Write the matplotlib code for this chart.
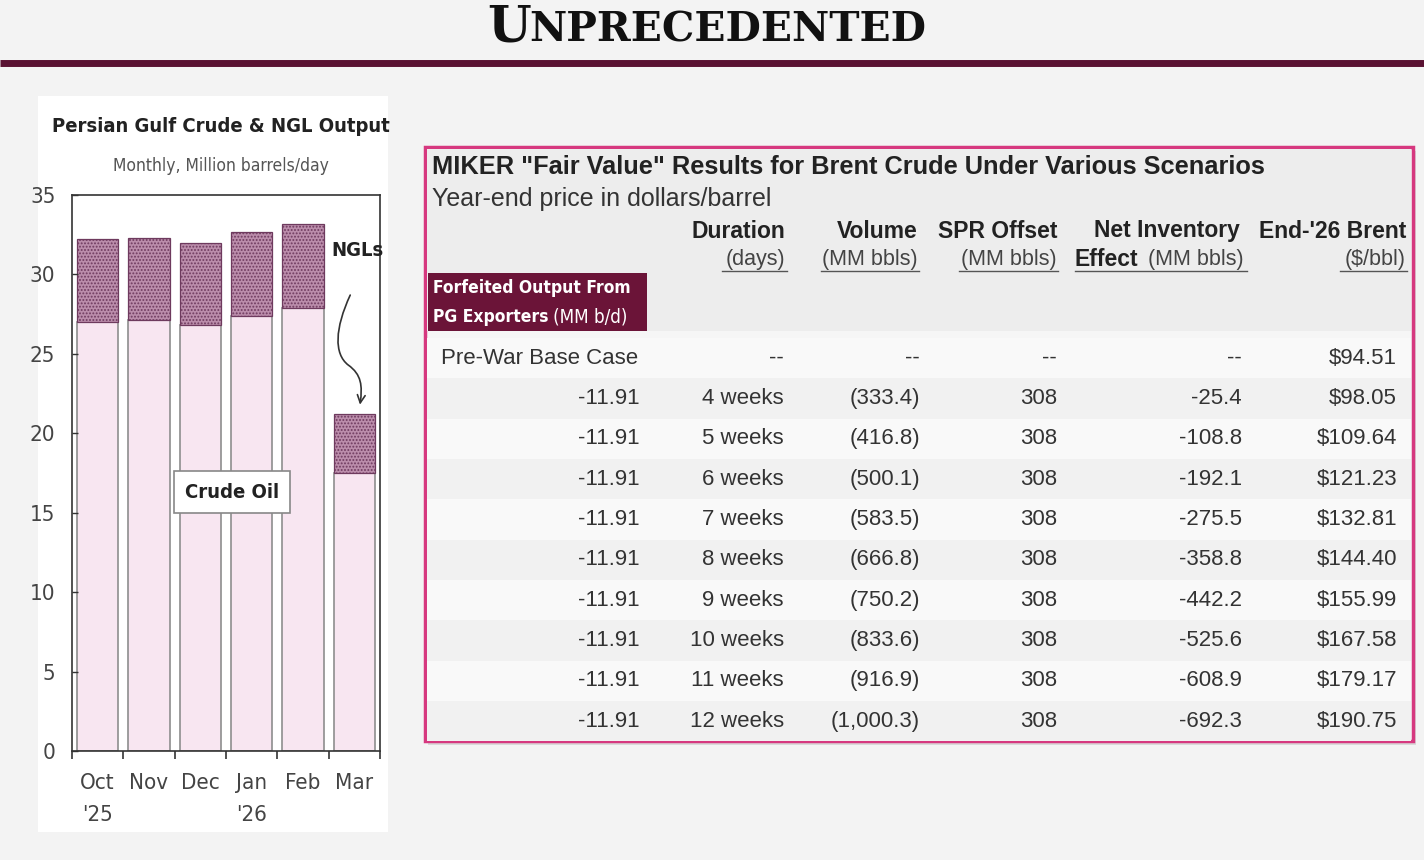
import numpy as np
import matplotlib
matplotlib.use("Agg")
import matplotlib.pyplot as plt
from matplotlib.patches import Rectangle, FancyArrowPatch
from matplotlib.path import Path

# bar chart data (million barrels/day)
months = ["Oct\n'25", "Nov", "Dec", "Jan\n'26", "Feb", "Mar"]
crude = [27.0, 27.1, 26.8, 27.4, 27.9, 17.5]
ngl = [5.2, 5.2, 5.2, 5.3, 5.3, 3.7]

# table data
forfeited = ["", "-11.91", "-11.91", "-11.91", "-11.91", "-11.91", "-11.91", "-11.91", "-11.91", "-11.91"]
durations = ["--", "4 weeks", "5 weeks", "6 weeks", "7 weeks", "8 weeks", "9 weeks", "10 weeks", "11 weeks", "12 weeks"]
volumes = ["--", "(333.4)", "(416.8)", "(500.1)", "(583.5)", "(666.8)", "(750.2)", "(833.6)", "(916.9)", "(1,000.3)"]
spr_offset = ["--", "308", "308", "308", "308", "308", "308", "308", "308", "308"]
net_inventory = ["--", "-25.4", "-108.8", "-192.1", "-275.5", "-358.8", "-442.2", "-525.6", "-608.9", "-692.3"]
brent = ["$94.51", "$98.05", "$109.64", "$121.23", "$132.81", "$144.40", "$155.99", "$167.58", "$179.17", "$190.75"]

NARROW = dict(family='DejaVu Sans', stretch='condensed')
SANS = ['Liberation Sans', 'DejaVu Sans']

fig = plt.figure(figsize=(14.24, 8.6), dpi=100)
fig.patch.set_facecolor('#f3f3f3')

# full-figure axes in pixel units for the slide layout
bg = fig.add_axes([0, 0, 1, 1], zorder=0)
bg.set_xlim(0, 1424)
bg.set_ylim(860, 0)
bg.axis('off')

# slide title in small caps
bg.text(487, 42, "U", fontsize=36, fontweight='bold', family='DejaVu Serif', color='#111', va='baseline')
bg.text(529, 42, "NPRECEDENTED", fontsize=29.3, fontweight='bold', family='DejaVu Serif', color='#111', va='baseline')
bg.plot([0, 1424], [63, 63], color='#5a1232', lw=5, solid_capstyle='butt')

# white panel behind the bar chart
bg.add_patch(Rectangle((38, 96), 350, 736, fc='white', ec='none'))
bg.text(221, 127, "Persian Gulf Crude & NGL Output", fontsize=14.5, fontweight='bold',
        ha='center', va='center', color='#222', **NARROW)
bg.text(221, 166, "Monthly, Million barrels/day", fontsize=12.5,
        ha='center', va='center', color='#555', **NARROW)

# table box
bg.add_patch(Rectangle((428, 151), 988, 594, fc='#d9d9d9', ec='none'))
bg.add_patch(Rectangle((425, 147), 988, 594, fc='#f6f6f6', ec='#d6387f', lw=2.5))
bg.add_patch(Rectangle((427, 149), 984, 182, fc='#ededed', ec='none'))
row_y = 358 + 40.35 * np.arange(len(brent))
for i, y in enumerate(row_y):
    bg.add_patch(Rectangle((427, y - 20), 984, 40.3,
                           fc='#f9f9f9' if i % 2 == 0 else '#f1f1f1', ec='none'))

bg.text(432, 167, "MIKER \"Fair Value\" Results for Brent Crude Under Various Scenarios",
        fontsize=18.3, fontweight='bold', family=SANS, va='center', color='#222')
bg.text(432, 199, "Year-end price in dollars/barrel", fontsize=18, family=SANS,
        va='center', color='#333')

hdr_top = ["Duration", "Volume", "SPR Offset", "Net Inventory", "End-'26 Brent"]
hdr_bot = ["(days)", "(MM bbls)", "(MM bbls)", "(MM bbls)", "($/bbl)"]
hdr_right = [785, 918, 1057, 1240, 1406]
for top, bot, xr in zip(hdr_top, hdr_bot, hdr_right):
    bg.text(xr, 231, top, fontsize=16.5, fontweight='bold', family=SANS, ha='right', va='center', color='#222')
    xb = xr + 4 if xr == 1240 else xr
    bg.text(xb, 259, bot, fontsize=15.5, family=SANS, ha='right', va='center', color='#444')
bg.text(1075, 259, "Effect", fontsize=16.5, fontweight='bold', family=SANS, va='center', color='#222')
for x0, x1 in [(722, 787), (821, 919), (959, 1058), (1075, 1247), (1340, 1407)]:
    bg.plot([x0, x1], [271, 271], color='#555', lw=1)

bg.add_patch(Rectangle((428, 273), 219, 58, fc='#6b1438', ec='none'))
bg.text(433, 288, "Forfeited Output From", fontsize=12.5, fontweight='bold',
        va='center', color='white', **NARROW)
bg.text(433, 317, "PG Exporters", fontsize=12.5, fontweight='bold',
        va='center', color='white', **NARROW)
bg.text(553, 317, "(MM b/d)", fontsize=13.5, va='center', color='white', **NARROW)

col_right = [640, 784, 920, 1057, 1242, 1397]
columns = [forfeited, durations, volumes, spr_offset, net_inventory, brent]
for i, y in enumerate(row_y):
    for xr, col in zip(col_right, columns):
        bg.text(xr, y, col[i], fontsize=16, family=SANS, ha='right', va='center', color='#333')
bg.text(441, row_y[0], "Pre-War Base Case", fontsize=16, family=SANS, va='center', color='#333')

# bar chart
ax = fig.add_axes([72 / 1424, 1 - 751 / 860, 308 / 1424, 556 / 860], zorder=2)
ax.set_facecolor('white')
plt.rcParams['hatch.linewidth'] = 0.9
x = np.arange(len(months))
ax.bar(x, crude, width=0.8, color='#f8e6f1', edgecolor='#8e8e8e', lw=1.2)
ax.bar(x, ngl, bottom=crude, width=0.8, color='#bb8dab', edgecolor='#6e3a5e',
       hatch='.....', lw=0.9)

ax.set_xlim(-0.5, len(months) - 0.5)
ax.set_ylim(0, 35)
ax.set_yticks(range(0, 36, 5))
ax.set_xticks(np.arange(-0.5, len(months), 1.0))
ax.set_xticklabels([])
ax.set_xticks(x, minor=True)
ax.set_xticklabels(months, minor=True)
ax.tick_params(axis='x', which='major', direction='out', length=6, width=1.2, color='#333')
ax.tick_params(axis='x', which='minor', length=0, pad=16, labelsize=16, labelcolor='#444')
ax.tick_params(axis='y', direction='in', length=4, width=1, color='#333', pad=12,
               labelsize=16, labelcolor='#444')
for lab in ax.get_xticklabels(minor=True) + ax.get_yticklabels():
    lab.set_family(NARROW['family'])
    lab.set_stretch(NARROW['stretch'])
    lab.set_linespacing(1.75)
for sp in ax.spines.values():
    sp.set_color('#333')
    sp.set_linewidth(1.2)

ax.text(2.62, 16.3, "Crude Oil", fontsize=14.5, fontweight='bold', ha='center',
        va='center', color='#222',
        bbox=dict(boxstyle='square,pad=0.55', fc='white', ec='#888', lw=1.2), **NARROW)
ax.text(5.07, 31.5, "NGLs", fontsize=14.5, fontweight='bold', ha='center',
        va='center', color='#222', clip_on=False, **NARROW)
squiggle = Path([(4.92, 28.7), (4.62, 26.6), (4.60, 25.0), (4.88, 24.3),
                 (5.14, 23.7), (5.16, 23.0), (5.11, 21.8)],
                [Path.MOVETO, Path.CURVE4, Path.CURVE4, Path.CURVE4,
                 Path.CURVE4, Path.CURVE4, Path.CURVE4])
ax.add_patch(FancyArrowPatch(path=squiggle, arrowstyle='->', mutation_scale=14,
                             color='#333', lw=1.2, clip_on=False))

fig.savefig("out.png", dpi=100, facecolor=fig.get_facecolor())
